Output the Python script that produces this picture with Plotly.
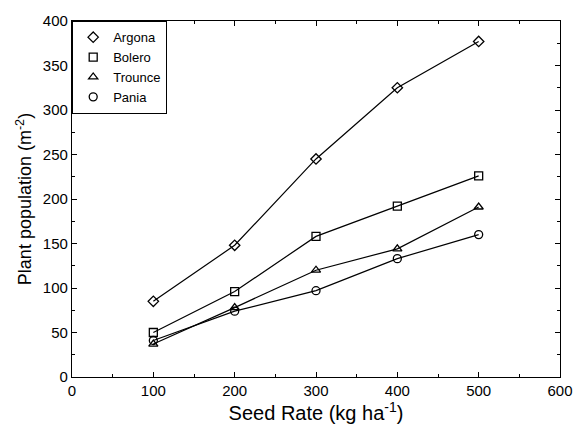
import plotly.graph_objects as go

seed_rate = [100, 200, 300, 400, 500]
argona = [85, 148, 245, 325, 377]
bolero = [50, 96, 158, 192, 226]
trounce = [37, 78, 120, 144, 191]
pania = [41, 74, 97, 133, 160]

series = [
    ("Argona", argona, "diamond-open"),
    ("Bolero", bolero, "square-open"),
    ("Trounce", trounce, "triangle-up-open"),
    ("Pania", pania, "circle-open"),
]

fig = go.Figure()
for name, vals, sym in series:
    fig.add_trace(go.Scatter(x=seed_rate, y=vals, mode="lines",
                             line=dict(color="black", width=1.2),
                             showlegend=False, hoverinfo="skip"))
for name, vals, sym in series:
    fig.add_trace(go.Scatter(x=seed_rate, y=vals, mode="markers", name=name,
                             marker=dict(symbol=sym, size=8, color="black",
                                         line=dict(color="black", width=1.3))))

font = "Liberation Sans, Arial, sans-serif"
axis_common = dict(showgrid=False, zeroline=False, showline=True, linecolor="black",
                   linewidth=1.2, mirror="ticks", ticks="inside", ticklen=5,
                   tickcolor="black", tickfont=dict(family=font, size=15, color="black"))

fig.update_layout(
    width=585, height=430,
    margin=dict(l=72, r=17, t=15, b=53),
    paper_bgcolor="white", plot_bgcolor="white",
    font=dict(family=font, color="black"),
    xaxis=dict(range=[0, 600], dtick=100, tick0=0,
               minor=dict(ticks="inside", dtick=50, ticklen=3, tickcolor="black"),
               title=dict(text="Seed Rate (kg ha<sup>-1</sup>)", font=dict(size=20), standoff=5),
               **axis_common),
    yaxis=dict(range=[0, 400], dtick=50, tick0=0,
               minor=dict(ticks="inside", dtick=25, ticklen=3, tickcolor="black"),
               title=dict(text="Plant population (m<sup>-2</sup>)", font=dict(size=18), standoff=6),
               **axis_common),
    legend=dict(x=0, y=1, xanchor="left", yanchor="top", bgcolor="white",
                bordercolor="black", borderwidth=1.2,
                font=dict(family=font, size=13, color="black"),
                tracegroupgap=0, itemwidth=30),
)

fig.write_html("out.html")
